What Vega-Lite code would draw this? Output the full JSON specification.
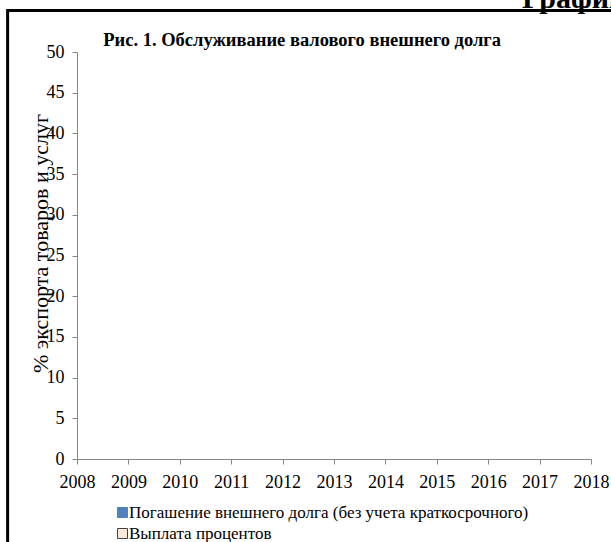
{
  "$schema": "https://vega.github.io/schema/vega-lite/v6.json",
  "width": 514,
  "height": 407,
  "autosize": {"type": "none"},
  "padding": {"left": 77, "top": 52, "right": 20, "bottom": 83},
  "background": "white",
  "config": {
    "view": {"stroke": null},
    "font": "Liberation Serif",
    "axis": {"labelFont": "Liberation Serif", "titleFont": "Liberation Serif"},
    "legend": {"labelFont": "Liberation Serif"},
    "text": {"font": "Liberation Serif"}
  },
  "layer": [
    {
      "data": {"values": [{}]},
      "mark": {"type": "rect", "fill": null, "stroke": "black", "strokeWidth": 3, "clip": false},
      "encoding": {
        "x": {"datum": 2006.65, "type": "quantitative"},
        "x2": {"datum": 2020},
        "y": {"datum": 55.1, "type": "quantitative"},
        "y2": {"datum": -20}
      }
    },
    {
      "data": {"values": [{}]},
      "mark": {"type": "text", "text": "Графики", "align": "left", "baseline": "alphabetic", "fontSize": 30, "fontWeight": "bold", "font": "Liberation Serif", "color": "black", "clip": false},
      "encoding": {
        "x": {"datum": 2016.66, "type": "quantitative"},
        "y": {"datum": 55.41, "type": "quantitative"}
      }
    },
    {
      "data": {"values": [{}]},
      "mark": {"type": "text", "text": "Рис. 1. Обслуживание валового внешнего долга", "align": "center", "baseline": "middle", "fontSize": 18.5, "fontWeight": "bold", "font": "Liberation Serif", "color": "black", "clip": false},
      "encoding": {
        "x": {"datum": 2012.38, "type": "quantitative"},
        "y": {"datum": 51.47, "type": "quantitative"}
      }
    },
    {
      "data": {
        "values": [
          {"year": 2008, "series": "Погашение внешнего долга (без учета краткосрочного)", "value": null},
          {"year": 2009, "series": "Погашение внешнего долга (без учета краткосрочного)", "value": null},
          {"year": 2010, "series": "Погашение внешнего долга (без учета краткосрочного)", "value": null},
          {"year": 2011, "series": "Погашение внешнего долга (без учета краткосрочного)", "value": null},
          {"year": 2012, "series": "Погашение внешнего долга (без учета краткосрочного)", "value": null},
          {"year": 2013, "series": "Погашение внешнего долга (без учета краткосрочного)", "value": null},
          {"year": 2014, "series": "Погашение внешнего долга (без учета краткосрочного)", "value": null},
          {"year": 2015, "series": "Погашение внешнего долга (без учета краткосрочного)", "value": null},
          {"year": 2016, "series": "Погашение внешнего долга (без учета краткосрочного)", "value": null},
          {"year": 2017, "series": "Погашение внешнего долга (без учета краткосрочного)", "value": null},
          {"year": 2008, "series": "Выплата процентов", "value": null},
          {"year": 2009, "series": "Выплата процентов", "value": null},
          {"year": 2010, "series": "Выплата процентов", "value": null},
          {"year": 2011, "series": "Выплата процентов", "value": null},
          {"year": 2012, "series": "Выплата процентов", "value": null},
          {"year": 2013, "series": "Выплата процентов", "value": null},
          {"year": 2014, "series": "Выплата процентов", "value": null},
          {"year": 2015, "series": "Выплата процентов", "value": null},
          {"year": 2016, "series": "Выплата процентов", "value": null},
          {"year": 2017, "series": "Выплата процентов", "value": null}
        ]
      },
      "mark": {"type": "bar", "strokeWidth": 1},
      "encoding": {
        "x": {
          "field": "year",
          "type": "quantitative",
          "scale": {"domain": [2008, 2018], "nice": false, "zero": false, "padding": 0},
          "axis": {
            "title": null,
            "values": [2008, 2009, 2010, 2011, 2012, 2013, 2014, 2015, 2016, 2017, 2018],
            "format": "d",
            "grid": false,
            "domainColor": "#868686",
            "tickColor": "#868686",
            "tickSize": 5,
            "labelFontSize": 18,
            "labelFont": "Liberation Serif",
            "labelColor": "black",
            "labelPadding": 9,
            "labelFlush": false,
            "labelOverlap": false
          }
        },
        "y": {
          "field": "value",
          "type": "quantitative",
          "stack": "zero",
          "scale": {"domain": [0, 50], "nice": false, "padding": 0},
          "axis": {
            "title": "% экспорта товаров и услуг",
            "values": [0, 5, 10, 15, 20, 25, 30, 35, 40, 45, 50],
            "grid": false,
            "domainColor": "#868686",
            "tickColor": "#868686",
            "tickSize": 5,
            "labelFontSize": 18,
            "labelFont": "Liberation Serif",
            "labelColor": "black",
            "labelPadding": 8,
            "labelFlush": false,
            "labelOverlap": false,
            "titleFont": "Liberation Serif",
            "titleFontSize": 22,
            "titleFontWeight": "normal",
            "titleColor": "black",
            "titleX": -37,
            "titleY": 191,
            "titleAngle": -90,
            "titleAlign": "center",
            "titleBaseline": "middle"
          }
        },
        "color": {
          "field": "series",
          "type": "nominal",
          "scale": {
            "domain": ["Погашение внешнего долга (без учета краткосрочного)", "Выплата процентов"],
            "range": ["#4F81BD", "#FDE9D9"]
          },
          "legend": {
            "orient": "none",
            "legendX": 37,
            "legendY": 452,
            "title": null,
            "direction": "vertical",
            "symbolType": "square",
            "symbolSize": 100,
            "symbolStrokeWidth": 1,
            "labelFontSize": 17,
            "labelFont": "Liberation Serif",
            "labelColor": "black",
            "labelLimit": 0,
            "labelOffset": -2,
            "rowPadding": 3,
            "padding": 0
          }
        },
        "stroke": {
          "field": "series",
          "type": "nominal",
          "scale": {
            "domain": ["Погашение внешнего долга (без учета краткосрочного)", "Выплата процентов"],
            "range": ["#4F81BD", "#404040"]
          },
          "legend": {
            "orient": "none",
            "legendX": 37,
            "legendY": 452,
            "title": null,
            "direction": "vertical",
            "symbolType": "square",
            "symbolSize": 100,
            "symbolStrokeWidth": 1,
            "labelFontSize": 17,
            "labelFont": "Liberation Serif",
            "labelColor": "black",
            "labelLimit": 0,
            "labelOffset": -2,
            "rowPadding": 3,
            "padding": 0
          }
        }
      }
    }
  ]
}
